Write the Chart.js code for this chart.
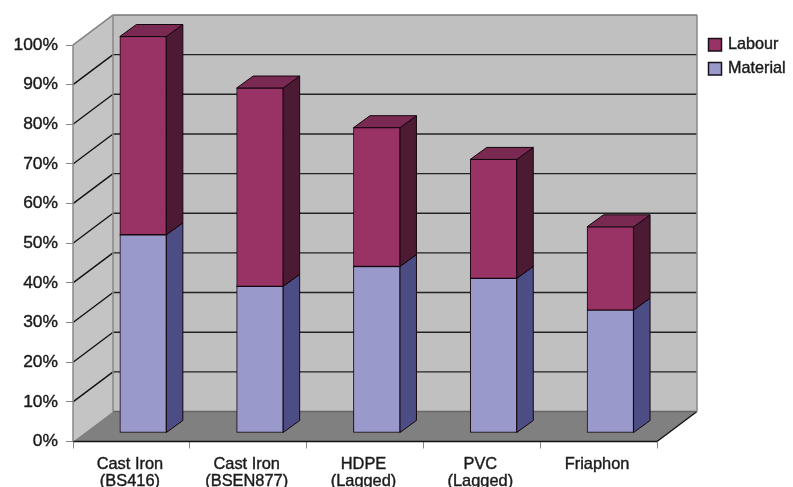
<!DOCTYPE html>
<html>
<head>
<meta charset="utf-8">
<style>
  html, body { margin: 0; padding: 0; background: #fff; overflow: hidden; }
  canvas { display: block; }
</style>
<script src="https://cdn.jsdelivr.net/npm/chart.js@4"></script>
</head>
<body>
<canvas id="myChart" width="793" height="487"></canvas>
<script>
var categories = [["Cast Iron", "(BS416)"], ["Cast Iron", "(BSEN877)"], ["HDPE", "(Lagged)"], ["PVC", "(Lagged)"], "Friaphon"];
var materialValues = [50, 37, 42, 39, 31];
var labourValues = [50, 50, 35, 30, 21];

var labourColors = { front: '#993366', side: '#4d1a33', top: '#7a2952' };
var materialColors = { front: '#9999cc', side: '#4d4d85', top: '#7a7aa3' };

// floor / wall depth and how far the bars sit into it
var depthX = 40, depthY = -30;
var barShiftX = 11.7, barShiftY = -8.5;
var barDepthX = 16.5, barDepthY = -12;

function poly(ctx, pts, fill, stroke, lineWidth) {
    ctx.beginPath();
    ctx.moveTo(pts[0][0], pts[0][1]);
    for (var i = 1; i < pts.length; i++) ctx.lineTo(pts[i][0], pts[i][1]);
    ctx.closePath();
    if (fill) { ctx.fillStyle = fill; ctx.fill(); }
    if (stroke) { ctx.strokeStyle = stroke; ctx.lineWidth = lineWidth || 1; ctx.stroke(); }
}

function line(ctx, x1, y1, x2, y2, color, lineWidth) {
    ctx.beginPath();
    ctx.moveTo(x1, y1);
    ctx.lineTo(x2, y2);
    ctx.strokeStyle = color;
    ctx.lineWidth = lineWidth;
    ctx.stroke();
}

var box3d = {
    id: 'box3d',
    beforeDatasetsDraw: function (chart) {
        var ctx = chart.ctx, a = chart.chartArea, y = chart.scales.y;
        var bx = a.left + depthX, bRight = a.right + depthX;
        var y0 = y.getPixelForValue(0), y100 = y.getPixelForValue(100);

        ctx.save();
        // walls
        poly(ctx, [[bx, y100 + depthY], [bRight, y100 + depthY], [bRight, y0 + depthY], [bx, y0 + depthY]], '#c0c0c0');
        poly(ctx, [[a.left, y100], [bx, y100 + depthY], [bx, y0 + depthY], [a.left, y0]], '#c4c4c4');

        // grid lines, side wall then back wall
        y.ticks.forEach(function (t) {
            var py = y.getPixelForValue(t.value);
            if (t.value === 0) return;
            var c = t.value === 100 ? '#777' : '#222';
            line(ctx, a.left, py, bx, py + depthY, t.value === 100 ? '#888' : '#111', 1.4);
            line(ctx, bx, py + depthY, bRight, py + depthY, c, 1.4);
        });

        // floor
        poly(ctx, [[a.left, y0], [a.right, y0], [bRight, y0 + depthY], [bx, y0 + depthY]], '#808080');
        line(ctx, a.left, y0, a.right, y0, '#111', 1.4);
        line(ctx, a.right, y0, bRight, y0 + depthY, '#111', 1.4);
        line(ctx, bx, y0 + depthY, bRight, y0 + depthY, '#666', 1.5);

        // wall edges
        line(ctx, a.left, y100, a.left, y0, '#888', 1.5);
        line(ctx, bx, y100 + depthY, bx, y0 + depthY, '#888', 1.5);
        line(ctx, bRight, y100 + depthY, bRight, y0 + depthY, '#888', 1.5);
        line(ctx, a.left, y100, bx, y100 + depthY, '#888', 1.5);
        ctx.restore();

        // bars sit inside the box, shifted off the front plane. Restored in afterDatasetsDraw
        ctx.save();
        ctx.translate(barShiftX, barShiftY);

        chart.data.datasets.forEach(function (ds, di) {
            var colors = di === 0 ? materialColors : labourColors;
            chart.getDatasetMeta(di).data.forEach(function (bar) {
                var l = bar.x - bar.width / 2, r = bar.x + bar.width / 2;
                poly(ctx, [[r, bar.y], [r + barDepthX, bar.y + barDepthY], [r + barDepthX, bar.base + barDepthY], [r, bar.base]], colors.side, '#14060d', 1);
                poly(ctx, [[l, bar.y], [l + barDepthX, bar.y + barDepthY], [r + barDepthX, bar.y + barDepthY], [r, bar.y]], colors.top, '#14060d', 1);
            });
        });
    },
    afterDatasetsDraw: function (chart) {
        chart.ctx.restore();
    },
    afterDraw: function (chart) {
        // legend on its own, Labour listed first
        var ctx = chart.ctx;
        var rows = chart.data.datasets.slice().reverse();
        ctx.save();
        rows.forEach(function (ds, i) {
            var top = 38.5 + i * 24;
            ctx.fillStyle = ds.backgroundColor;
            ctx.strokeStyle = '#14101a';
            ctx.lineWidth = 1.5;
            ctx.fillRect(708.5, top, 13, 12.5);
            ctx.strokeRect(708.5, top, 13, 12.5);
            ctx.fillStyle = '#1a1a1a';
            ctx.strokeStyle = '#1a1a1a';
            ctx.lineWidth = 0.4;
            ctx.font = '16.2px "Liberation Sans"';
            ctx.textBaseline = 'middle';
            ctx.textAlign = 'left';
            ctx.fillText(ds.label, 728, top + 6.5);
            ctx.strokeText(ds.label, 728, top + 6.5);
        });
        ctx.restore();
    }
};

var ctx = document.getElementById('myChart').getContext('2d');
var chart = new Chart(ctx, {
    type: 'bar',
    data: {
        labels: categories,
        datasets: [{
            label: 'Material',
            data: materialValues,
            backgroundColor: materialColors.front,
            borderColor: '#14060d',
            borderWidth: 1,
            borderSkipped: false,
            barThickness: 46.5,
            clip: false
        }, {
            label: 'Labour',
            data: labourValues,
            backgroundColor: labourColors.front,
            borderColor: '#14060d',
            borderWidth: 1,
            borderSkipped: false,
            barThickness: 46.5,
            clip: false
        }]
    },
    options: {
        responsive: false,
        animation: false,
        devicePixelRatio: 1,
        layout: { padding: { top: 45, left: 0, right: 136, bottom: 0 } },
        plugins: { legend: { display: false }, tooltip: { enabled: false } },
        scales: {
            x: {
                stacked: true,
                offset: true,
                afterFit: function (scale) { scale.height = 45.5; },
                grid: { drawOnChartArea: false, tickLength: 7, tickColor: '#888', offset: true },
                border: { display: false },
                ticks: {
                    color: '#1a1a1a',
                    textStrokeColor: '#1a1a1a',
                    textStrokeWidth: 0.4,
                    font: { family: 'Liberation Sans', size: 16.4, lineHeight: 1.04 },
                    padding: 7,
                    labelOffset: -1.5,
                    maxRotation: 0,
                    autoSkip: false
                }
            },
            y: {
                stacked: true,
                min: 0,
                max: 100,
                afterFit: function (scale) { scale.width = 73; },
                grid: { drawOnChartArea: false, tickLength: 7, tickColor: '#888' },
                border: { display: false },
                ticks: {
                    stepSize: 10,
                    color: '#1a1a1a',
                    textStrokeColor: '#1a1a1a',
                    textStrokeWidth: 0.4,
                    font: { family: 'Liberation Sans', size: 17.4 },
                    padding: 8,
                    callback: function (v) { return v + '%'; }
                }
            }
        }
    },
    plugins: [box3d]
});
</script>
</body>
</html>
